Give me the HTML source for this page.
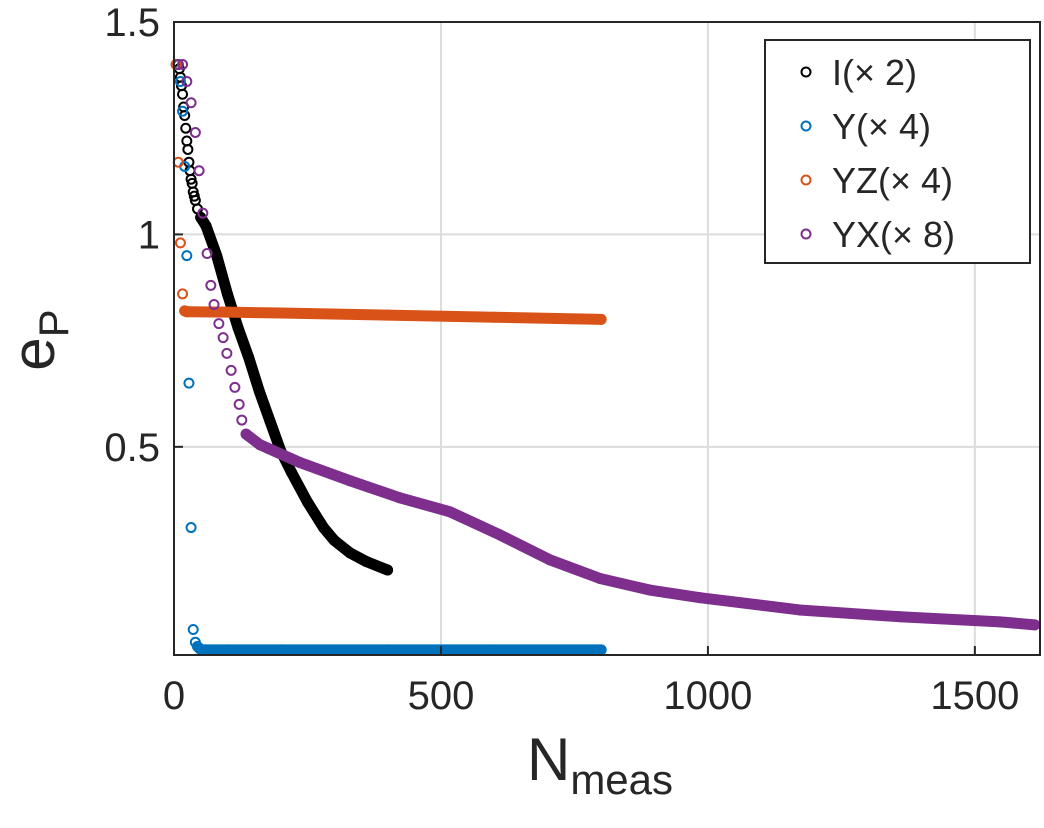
<!DOCTYPE html>
<html><head><meta charset="utf-8"><style>
body{margin:0;background:#fff;}
svg text{font-family:"Liberation Sans","DejaVu Sans",sans-serif;fill:#262626;}
</style></head><body>
<svg id="chart" width="1044" height="823" xmlns="http://www.w3.org/2000/svg">
<g id="grid"></g>
<g id="series"></g>
<g id="axes"></g>
<text x="600" y="780" font-size="60" text-anchor="middle">N<tspan font-size="42" dy="14">meas</tspan></text>
<text transform="translate(54,340) rotate(-90)" font-size="60" text-anchor="middle">e<tspan font-size="42" dy="14">P</tspan></text>
<g id="legend"></g>
</svg>
<script>
const xTicks=[0,500,1000,1500];
const yTicks=[0.5,1,1.5];
const yTickLabels=["0.5","1","1.5"];
const seriesNames=["I(\u00d7 2)","Y(\u00d7 4)","YZ(\u00d7 4)","YX(\u00d7 8)"];
const colors=["#000000","#0072BD","#D95319","#7E2F8E"];
const denseFrom=[50,44,20,135];
const iX=[8,10,12,14,16,18,20,22,24,26,28,30,32,34,36,38,40,44,50,60,80,100,120,140,160,180,200,220,250,280,300,330,360,400];
const iY=[1.4,1.39,1.37,1.35,1.33,1.3,1.28,1.25,1.22,1.2,1.17,1.15,1.13,1.12,1.1,1.09,1.08,1.06,1.04,1.02,0.95,0.86,0.78,0.71,0.63,0.56,0.49,0.44,0.37,0.31,0.28,0.25,0.23,0.21];
const yX=[4,8,12,16,20,24,28,32,36,40,44,48,52,60,100,200,400,600,800];
const yY=[1.4,1.4,1.36,1.29,1.16,0.95,0.65,0.31,0.07,0.04,0.03,0.025,0.022,0.022,0.022,0.022,0.022,0.022,0.022];
const yzX=[4,8,12,16,20,24,28,100,200,400,600,800];
const yzY=[1.4,1.17,0.98,0.86,0.82,0.818,0.818,0.817,0.815,0.81,0.805,0.8];
const yxX=[8,16,24,32,40,47,54,62,69,75,84,92,99,107,114,122,127,135,161,236,330,423,517,610,704,798,891,985,1172,1360,1547,1612];
const yxY=[1.4,1.4,1.36,1.31,1.24,1.15,1.05,0.955,0.88,0.835,0.79,0.757,0.72,0.68,0.64,0.6,0.563,0.53,0.505,0.463,0.42,0.38,0.347,0.293,0.234,0.19,0.163,0.145,0.116,0.1,0.088,0.081];
const allX=[iX,yX,yzX,yxX], allY=[iY,yY,yzY,yxY];
const L=174,R=1040,T=22,B=655;
const xMin=0,xMax=1622,yMin=0.01,yMax=1.5;
const sx=v=>L+(v-xMin)/(xMax-xMin)*(R-L);
const sy=v=>B-(v-yMin)/(yMax-yMin)*(B-T);
const NS="http://www.w3.org/2000/svg";
function mk(t,a,p){const e=document.createElementNS(NS,t);for(const k in a)e.setAttribute(k,a[k]);p.appendChild(e);return e;}
const grid=document.getElementById('grid'),axes=document.getElementById('axes'),ser=document.getElementById('series'),leg=document.getElementById('legend');
xTicks.forEach(v=>{
 const g=mk('line',{x1:sx(v),x2:sx(v),y1:T,y2:B,stroke:'#dcdcdc','stroke-width':2},grid);
 
 
 const tk=mk('line',{x1:sx(v),x2:sx(v),y1:B,y2:B-9,stroke:'#262626','stroke-width':2},axes);
 
 
 const t=mk('text',{x:sx(v),y:B+54,'font-size':40,'text-anchor':'middle'},axes);t.textContent=v;
 
 
});
yTicks.forEach((v,i)=>{
 const g=mk('line',{x1:L,x2:R,y1:sy(v),y2:sy(v),stroke:'#dcdcdc','stroke-width':2},grid);
 
 
 const tk=mk('line',{x1:L,x2:L+9,y1:sy(v),y2:sy(v),stroke:'#262626','stroke-width':2},axes);
 
 
 const t=mk('text',{x:L-14,y:sy(v)+14,'font-size':40,'text-anchor':'end'},axes);t.textContent=yTickLabels[i];
 
 
});
const box=mk('rect',{x:L,y:T,width:R-L,height:B-T,fill:'none',stroke:'#262626','stroke-width':2},axes);


allX.forEach((xs,s)=>{
 const g=mk('g',{},ser);
 
 
 const pts=[];xs.forEach((x,i)=>{if(x>=denseFrom[s])pts.push(sx(x)+','+sy(allY[s][i]));});
 const band=mk('polyline',{points:pts.join(' '),fill:'none',stroke:colors[s],'stroke-width':11,'stroke-linecap':'round','stroke-linejoin':'round'},g);
 
 
 xs.forEach((x,i)=>{
  const c=mk('circle',{cx:sx(x),cy:sy(allY[s][i]),r:4.5,fill:'none',stroke:colors[s],'stroke-width':2},g);
  
  
 });
});
const lb=mk('rect',{x:765,y:40,width:265,height:223,fill:'#fff',stroke:'#262626','stroke-width':2},leg);


seriesNames.forEach((n,i)=>{
 const y=72+i*54;
 const c=mk('circle',{cx:806,cy:y,r:4.5,fill:'none',stroke:colors[i],'stroke-width':2},leg);
 
 
 const t=mk('text',{x:832,y:y+13,'font-size':36},leg);t.textContent=n;
 
 
});
</script>
</body></html>
